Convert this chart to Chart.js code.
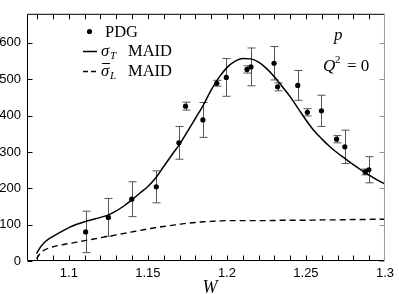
<!DOCTYPE html>
<html>
<head>
<meta charset="utf-8">
<script src="https://cdn.jsdelivr.net/npm/chart.js@4/dist/chart.umd.min.js"></script>
<style>
  html, body { margin: 0; padding: 0; background: #fff; }
  #wrap { width: 399px; height: 294px; position: relative; }
</style>
</head>
<body>
<div id="wrap"><canvas id="chart"></canvas></div>
<script>
// PDG points
const pdgW     = [1.1106, 1.125, 1.1398, 1.1553, 1.1696, 1.1738, 1.1848, 1.1936, 1.1996, 1.2127, 1.2152, 1.2298, 1.2321, 1.2448, 1.2509, 1.2598, 1.2694, 1.2746, 1.2875, 1.2898];
const pdgSigma = [80, 120, 170, 204, 325, 426, 388, 489, 505, 527, 534, 544, 479, 483, 409, 413, 335, 314, 245, 251];
const pdgErr   = [57, 52, 48, 44, 45, 11, 48, 8, 52, 10, 52, 46, 11, 41, 10, 43, 10, 46, 8, 36];

// MAID curves
const maidW = [1.0795, 1.082, 1.085, 1.09, 1.095, 1.1, 1.105, 1.11, 1.115, 1.12, 1.125, 1.13, 1.135, 1.14, 1.145,
  1.15, 1.155, 1.16, 1.165, 1.17, 1.175, 1.18, 1.185, 1.19, 1.195, 1.2, 1.205, 1.21, 1.215, 1.22, 1.225,
  1.23, 1.235, 1.24, 1.245, 1.25, 1.255, 1.26, 1.265, 1.27, 1.275, 1.28, 1.285, 1.29, 1.295, 1.3];
const sigmaT = [20, 38, 53, 68, 80, 92, 101, 108, 114, 120, 127, 138, 152, 169, 187,
  205, 229, 260, 291, 321, 356, 392, 428, 470, 505, 532, 549, 557, 556, 547, 530,
  507, 480, 452, 420, 388, 359, 336, 315, 297, 281, 265, 250, 236, 223, 212];
const sigmaL = [6, 22, 31, 39, 44, 48, 52, 56, 60, 64, 68, 72, 76, 80, 84,
  88, 92, 95, 98, 101, 104, 106, 108, 109, 110, 111, 111, 111, 111, 111, 111,
  111.5, 112, 112, 112, 112, 112.5, 113, 113, 113, 113.5, 114, 114, 114.5, 115, 115];

const xTicks = [1.1, 1.15, 1.2, 1.25, 1.3];
const xMinor = [1.08, 1.09, 1.1, 1.11, 1.12, 1.13, 1.14, 1.15, 1.16, 1.17, 1.18, 1.19, 1.2, 1.21, 1.22, 1.23, 1.24, 1.25, 1.26, 1.27, 1.28, 1.29];
const yTicks = [0, 100, 200, 300, 400, 500, 600];

const SERIF = '"Liberation Serif", "DejaVu Serif", serif';
const SANS = '"Liberation Sans", Arial, sans-serif';

const pts = (xs, ys) => xs.map((x, i) => ({ x: x, y: ys[i] }));

// error bars under the points
const errorBars = {
  id: 'errorBars',
  beforeDatasetsDraw(chart) {
    const { ctx, scales: { x, y } } = chart;
    ctx.save();
    ctx.strokeStyle = '#555';
    ctx.lineWidth = 1;
    pdgW.forEach((w, i) => {
      const px = Math.round(x.getPixelForValue(w)) + 0.5;
      const top = y.getPixelForValue(pdgSigma[i] + pdgErr[i]);
      const bot = y.getPixelForValue(pdgSigma[i] - pdgErr[i]);
      ctx.beginPath();
      ctx.moveTo(px, top); ctx.lineTo(px, bot);
      ctx.moveTo(px - 4, top); ctx.lineTo(px + 4, top);
      ctx.moveTo(px - 4, bot); ctx.lineTo(px + 4, bot);
      ctx.stroke();
    });
    ctx.restore();
  }
};

// box, inward ticks, legend and labels
const frame = {
  id: 'frame',
  afterDraw(chart) {
    const { ctx, chartArea: a, scales: { x, y } } = chart;
    const L = a.left + 0.5, R = a.right - 0.5, T = a.top + 0.5, B = a.bottom - 0.5;
    ctx.save();
    ctx.lineWidth = 1;
    ctx.strokeStyle = '#000';
    ctx.beginPath();
    ctx.moveTo(R, T); ctx.lineTo(L, T); ctx.lineTo(L, B); ctx.lineTo(R, B);
    xMinor.forEach(v => {
      const px = Math.round(x.getPixelForValue(v)) + 0.5;
      ctx.moveTo(px, B); ctx.lineTo(px, B - 5);
      ctx.moveTo(px, T); ctx.lineTo(px, T + 5);
    });
    yTicks.forEach(v => {
      const py = Math.round(y.getPixelForValue(v)) + 0.5;
      ctx.moveTo(L, py); ctx.lineTo(L + 5, py);
    });
    ctx.stroke();

    ctx.strokeStyle = '#999';
    ctx.beginPath();
    ctx.moveTo(R, T); ctx.lineTo(R, B);
    yTicks.forEach(v => {
      const py = Math.round(y.getPixelForValue(v)) + 0.5;
      ctx.moveTo(R, py); ctx.lineTo(R - 5, py);
    });
    ctx.stroke();

    // legend
    ctx.fillStyle = '#000';
    ctx.strokeStyle = '#000';
    ctx.textBaseline = 'alphabetic';
    ctx.textAlign = 'left';
    ctx.beginPath();
    ctx.arc(89.5, 31.5, 2.6, 0, Math.PI * 2);
    ctx.fill();
    ctx.font = '16.5px ' + SERIF;
    ctx.fillText('PDG', 105, 36.7);

    ctx.lineWidth = 1.5;
    ctx.beginPath();
    ctx.moveTo(83, 51.5); ctx.lineTo(97, 51.5);
    ctx.stroke();
    ctx.setLineDash([5, 3]);
    ctx.beginPath();
    ctx.moveTo(83, 71.5); ctx.lineTo(97, 71.5);
    ctx.stroke();
    ctx.setLineDash([]);

    ctx.font = 'italic 16.5px ' + SERIF;
    ctx.fillText('σ', 101, 56);
    ctx.fillText('σ', 101, 76);
    ctx.lineWidth = 1;
    ctx.beginPath();
    ctx.moveTo(102, 63.5); ctx.lineTo(110, 63.5);
    ctx.stroke();
    ctx.font = 'italic 11px ' + SERIF;
    ctx.fillText('T', 110, 59);
    ctx.fillText('L', 110, 79);
    ctx.font = '16.5px ' + SERIF;
    ctx.fillText('MAID', 128, 56);
    ctx.fillText('MAID', 128, 76);

    // annotation
    ctx.font = 'italic 17px ' + SERIF;
    ctx.fillText('p', 334, 40);
    ctx.fillText('Q', 323, 71);
    ctx.font = '11px ' + SERIF;
    ctx.fillText('2', 335, 63);
    ctx.font = '17px ' + SERIF;
    ctx.fillText('= 0', 347, 71);

    // axis title
    ctx.font = 'italic 18px ' + SERIF;
    ctx.textAlign = 'center';
    ctx.fillText('W', 210, 293);
    ctx.restore();
  }
};

new Chart(document.getElementById('chart'), {
  type: 'line',
  data: {
    datasets: [
      {
        label: 'PDG',
        data: pts(pdgW, pdgSigma),
        showLine: false,
        pointRadius: 2.6,
        pointBackgroundColor: '#000',
        pointBorderWidth: 0
      },
      {
        label: 'sigma_T MAID',
        data: pts(maidW, sigmaT),
        borderColor: '#000',
        borderWidth: 1.5,
        pointRadius: 0,
        cubicInterpolationMode: 'monotone'
      },
      {
        label: 'sigma_L MAID',
        data: pts(maidW, sigmaL),
        borderColor: '#000',
        borderWidth: 1.4,
        borderDash: [6, 4],
        pointRadius: 0,
        cubicInterpolationMode: 'monotone'
      }
    ]
  },
  options: {
    responsive: true,
    maintainAspectRatio: false,
    animation: false,
    devicePixelRatio: 1,
    layout: { padding: { top: 1, right: 9, left: 0, bottom: 0 } },
    plugins: { legend: { display: false }, tooltip: { enabled: false } },
    scales: {
      x: {
        type: 'linear',
        min: 1.0735,
        max: 1.3,
        afterBuildTicks: s => { s.ticks = xTicks.map(v => ({ value: v })); },
        afterFit: s => { s.height = 33; },
        grid: { display: false, drawTicks: false },
        border: { display: false },
        ticks: {
          color: '#000', padding: 5, maxRotation: 0, font: { family: SANS, size: 13 },
          callback: v => String(Math.round(v * 100) / 100)
        }
      },
      y: {
        min: 0,
        max: 680,
        afterBuildTicks: s => { s.ticks = yTicks.map(v => ({ value: v })); },
        afterFit: s => { s.width = 27; },
        grid: { display: false, drawTicks: false },
        border: { display: false },
        ticks: { color: '#000', padding: 6, font: { family: SANS, size: 13 } }
      }
    }
  },
  plugins: [errorBars, frame]
});
</script>
</body>
</html>
